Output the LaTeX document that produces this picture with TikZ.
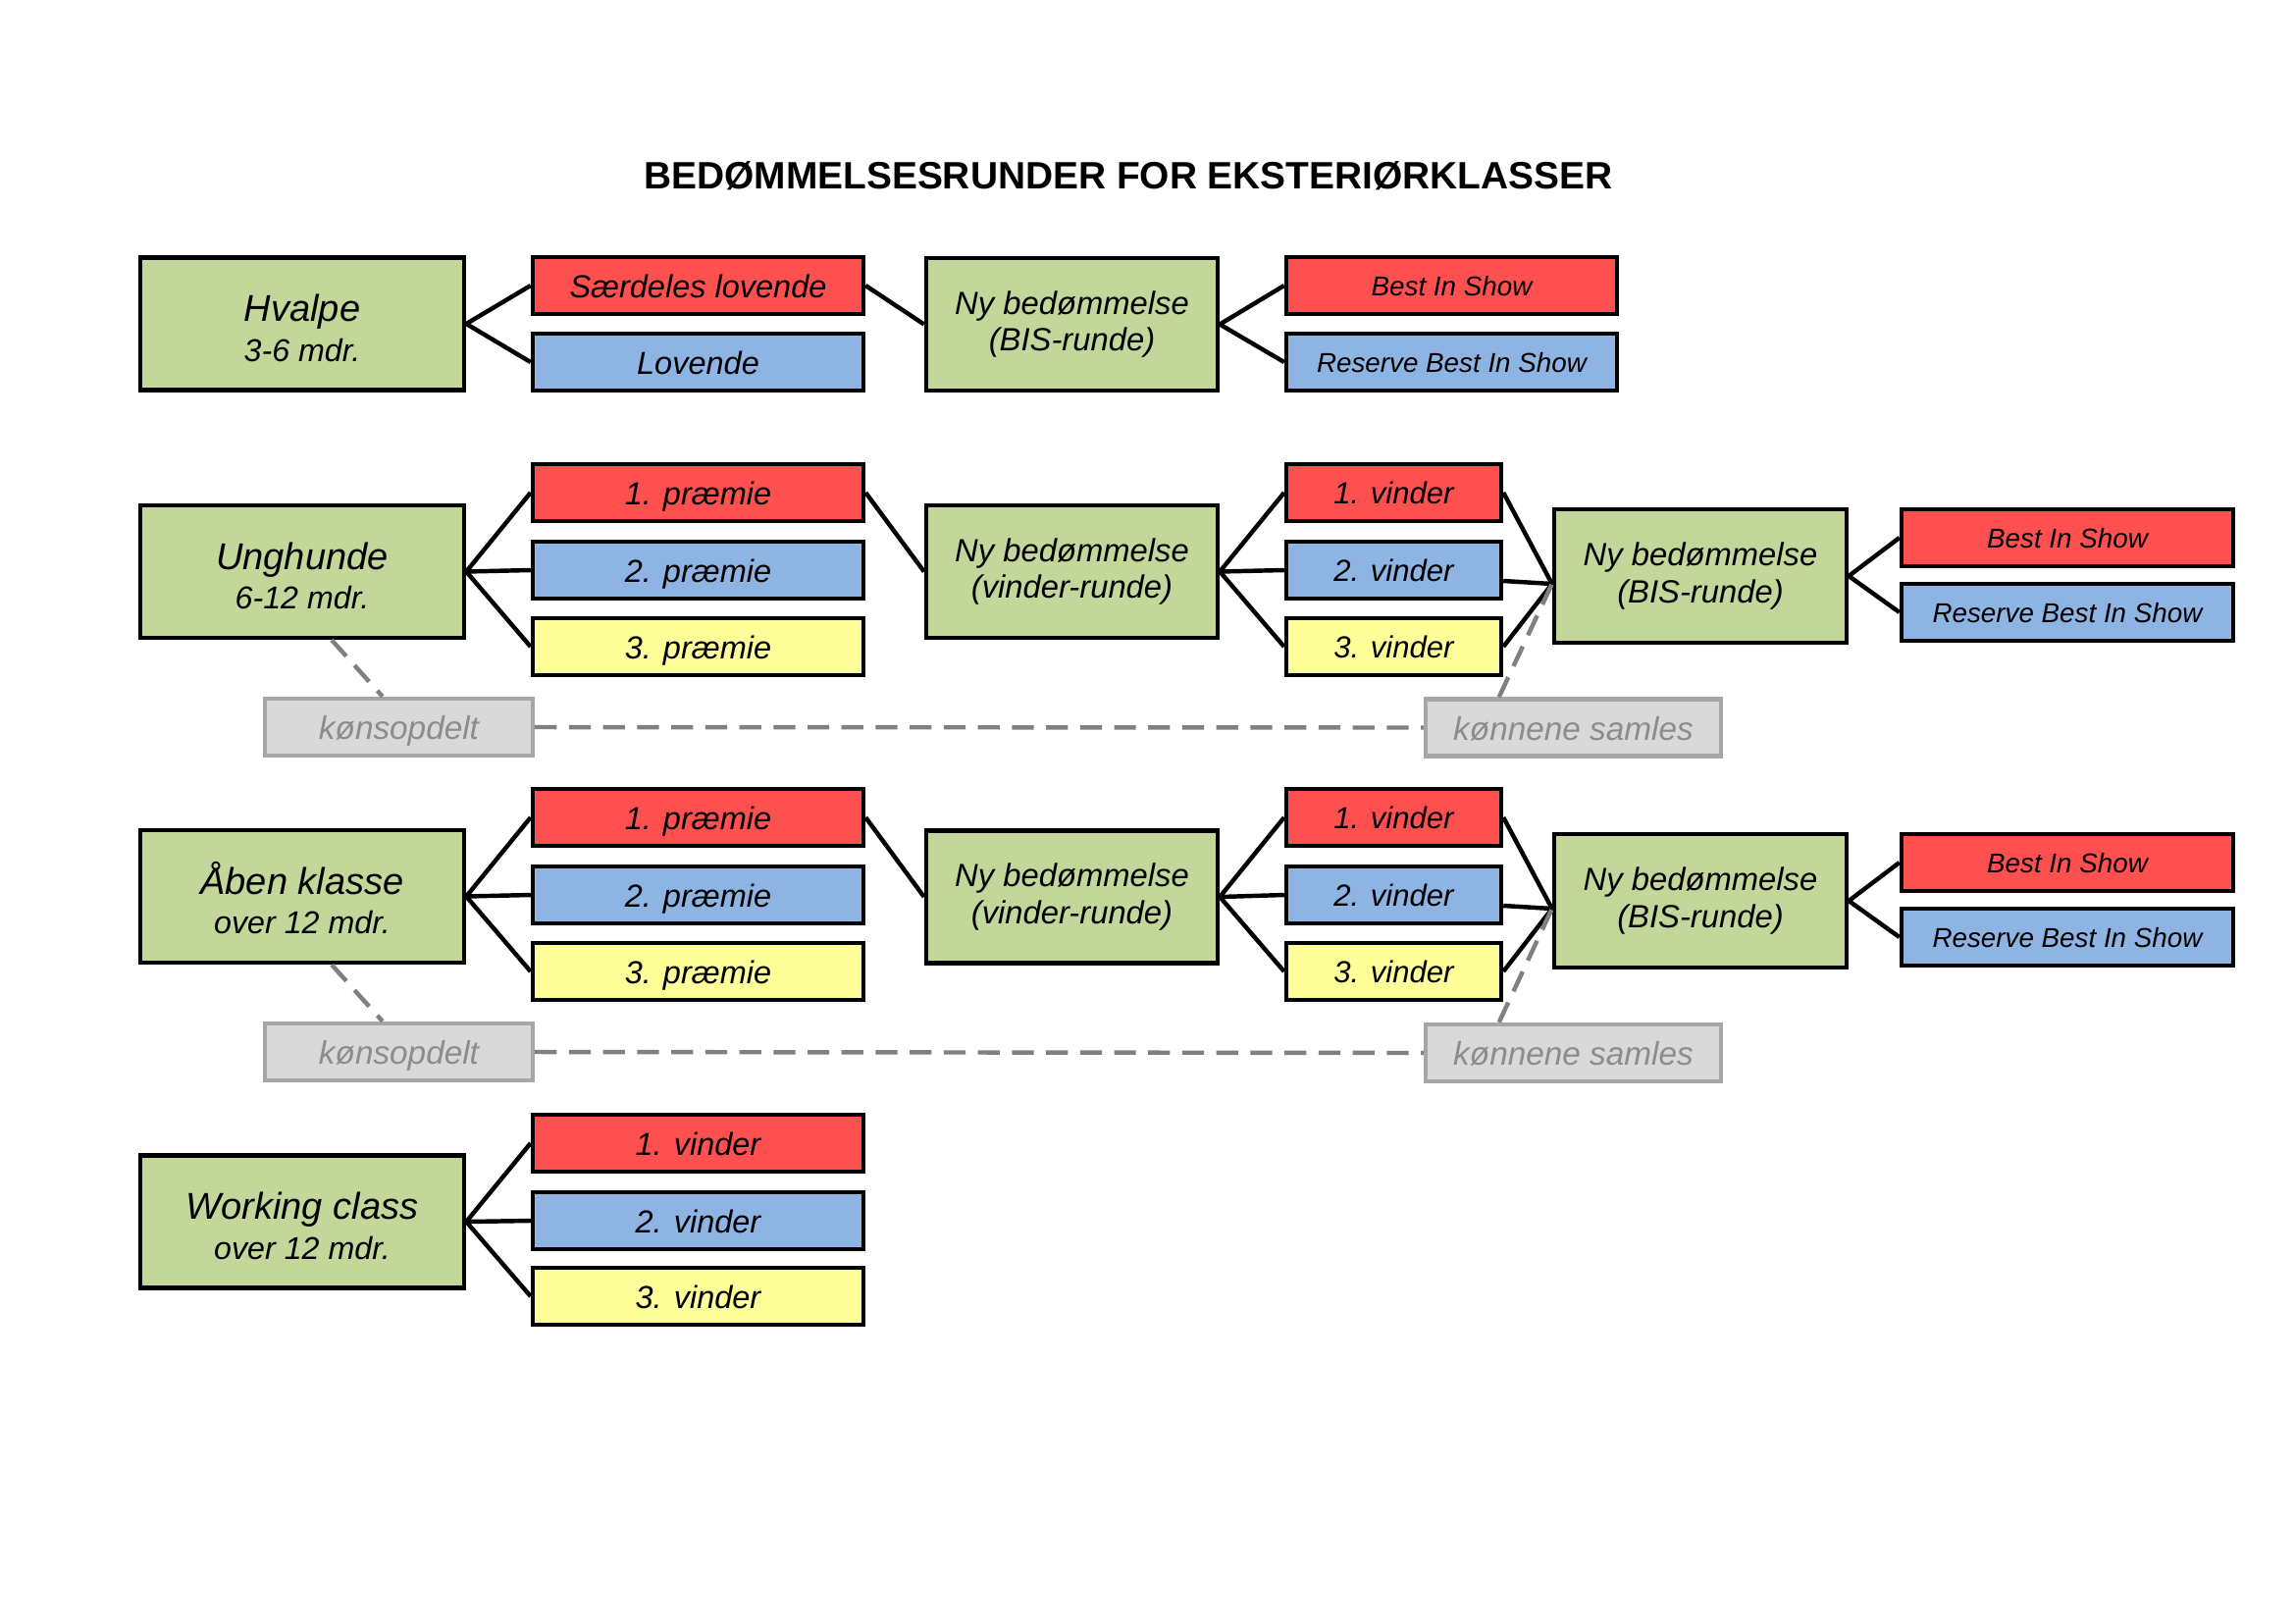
\documentclass[tikz,border=0pt]{standalone}
\usepackage{fontspec}
\setmainfont{Liberation Sans}
\usetikzlibrary{calc}
\newlength\pxu \setlength\pxu{0.36pt}
\newcommand\clsfirst[1]{{\fontsize{13.7}{16}\selectfont\rule{0pt}{13pt}#1}}
\definecolor{cgreen}{RGB}{196,215,155}
\definecolor{cred}{RGB}{255,80,80}
\definecolor{cblue}{RGB}{141,180,226}
\definecolor{cyellow}{RGB}{255,255,153}
\definecolor{cgreyfill}{RGB}{217,217,217}
\definecolor{cgreyline}{RGB}{166,166,166}
\definecolor{cgreytext}{RGB}{140,140,140}
\definecolor{cdash}{RGB}{128,128,128}
\begin{document}
\begin{tikzpicture}[x=0.36pt,y=-0.36pt,
  box/.style={draw=black,line width=1.6pt,inner sep=0pt,align=center},
  classbox/.style={box,fill=cgreen,minimum width=330\pxu,minimum height=135\pxu,font=\fontsize{11.6}{14.5}\selectfont\itshape},
  nybox/.style={box,fill=cgreen,minimum width=297\pxu,minimum height=135\pxu,font=\fontsize{11.8}{13.6}\selectfont\itshape},
  awardbox/.style={box,minimum width=337\pxu,minimum height=58\pxu,text height=9pt,text depth=0pt,font=\fontsize{11.7}{14}\selectfont\itshape},
  bisbox/.style={box,minimum width=337\pxu,minimum height=58\pxu,text height=7.7pt,text depth=0pt,font=\fontsize{10}{12}\selectfont\itshape},
  vinbox/.style={box,minimum width=219\pxu,minimum height=58\pxu,text height=8.6pt,text depth=0pt,font=\fontsize{11.2}{13}\selectfont\itshape},
  greybox/.style={draw=cgreyline,fill=cgreyfill,line width=1.6pt,inner sep=0pt,text=cgreytext,minimum height=58\pxu,text height=9.3pt,text depth=0pt,font=\fontsize{12}{14}\selectfont\itshape},
  conn/.style={draw=black,line width=1.6pt},
  dashline/.style={draw=cdash,line width=1.6pt,dash pattern=on 8pt off 4.5pt}
]
\fill[white] (0,0) rectangle (2339,1654);
\useasboundingbox (0,0) rectangle (2339,1654);

\node[font=\fontsize{14}{16}\selectfont\bfseries] (title) at (1150,179) {BEDØMMELSESRUNDER FOR EKSTERIØRKLASSER};

% Row 1
\node[classbox] (hv) at (308,330) {\clsfirst{Hvalpe}\\[0pt]3-6 mdr.};
\node[awardbox,fill=cred] (sl) at (711.5,291) {Særdeles lovende};
\node[awardbox,fill=cblue] (lo) at (711.5,369) {Lovende};
\node[nybox] (ny1) at (1092.5,330.5) {Ny bedømmelse\\(BIS-runde)};
\node[bisbox,fill=cred] (bs1) at (1479.5,291) {Best In Show};
\node[bisbox,fill=cblue] (rb1) at (1479.5,369) {Reserve Best In Show};

% Row 2
\node[classbox] (ung) at (308,582.5) {\clsfirst{Unghunde}\\[0pt]6-12 mdr.};
\node[awardbox,fill=cred] (p21) at (711.5,502) {1. præmie};
\node[awardbox,fill=cblue] (p22) at (711.5,581) {2. præmie};
\node[awardbox,fill=cyellow] (p23) at (711.5,659) {3. præmie};
\node[nybox] (ny2) at (1092.5,582.5) {Ny bedømmelse\\(vinder-runde)};
\node[vinbox,fill=cred] (v21) at (1420.5,502) {1. vinder};
\node[vinbox,fill=cblue] (v22) at (1420.5,581) {2. vinder};
\node[vinbox,fill=cyellow] (v23) at (1420.5,659) {3. vinder};
\node[nybox,minimum width=298\pxu,minimum height=136\pxu] (bis2) at (1733,587) {Ny bedømmelse\\(BIS-runde)};
\node[bisbox,fill=cred,minimum width=338\pxu] (bs2) at (2107,548) {Best In Show};
\node[bisbox,fill=cblue,minimum width=338\pxu] (rb2) at (2107,624) {Reserve Best In Show};
\node[greybox,minimum width=273\pxu] (ks1) at (406.5,741) {kønsopdelt};
\node[greybox,minimum width=301\pxu] (kn1) at (1603.5,741.5) {kønnene samles};

% Row 3
\node[classbox] (aab) at (308,913.5) {\clsfirst{Åben klasse}\\[0pt]over 12 mdr.};
\node[awardbox,fill=cred] (p31) at (711.5,833) {1. præmie};
\node[awardbox,fill=cblue] (p32) at (711.5,912) {2. præmie};
\node[awardbox,fill=cyellow] (p33) at (711.5,990) {3. præmie};
\node[nybox] (ny3) at (1092.5,914) {Ny bedømmelse\\(vinder-runde)};
\node[vinbox,fill=cred] (v31) at (1420.5,833) {1. vinder};
\node[vinbox,fill=cblue] (v32) at (1420.5,912) {2. vinder};
\node[vinbox,fill=cyellow] (v33) at (1420.5,990) {3. vinder};
\node[nybox,minimum width=298\pxu,minimum height=136\pxu] (bis3) at (1733,918) {Ny bedømmelse\\(BIS-runde)};
\node[bisbox,fill=cred,minimum width=338\pxu] (bs3) at (2107,879) {Best In Show};
\node[bisbox,fill=cblue,minimum width=338\pxu] (rb3) at (2107,955) {Reserve Best In Show};
\node[greybox,minimum width=273\pxu] (ks2) at (406.5,1072) {kønsopdelt};
\node[greybox,minimum width=301\pxu] (kn2) at (1603.5,1073) {kønnene samles};

% Row 4
\node[classbox] (wc) at (308,1245) {\clsfirst{Working class}\\[0pt]over 12 mdr.};
\node[awardbox,fill=cred] (w1) at (711.5,1165) {1. vinder};
\node[awardbox,fill=cblue] (w2) at (711.5,1244) {2. vinder};
\node[awardbox,fill=cyellow] (w3) at (711.5,1321) {3. vinder};

% Connectors row 1
\draw[conn] (hv.east) -- (sl.west);
\draw[conn] (hv.east) -- (lo.west);
\draw[conn] (sl.east) -- (ny1.west);
\draw[conn] (ny1.east) -- (bs1.west);
\draw[conn] (ny1.east) -- (rb1.west);

% Connectors row 2
\coordinate (bin2) at ($(bis2.west)+(0,8)$);
\draw[conn] (ung.east) -- (p21.west);
\draw[conn] (ung.east) -- (p22.west);
\draw[conn] (ung.east) -- (p23.west);
\draw[conn] (p21.east) -- (ny2.west);
\draw[conn] (ny2.east) -- (v21.west);
\draw[conn] (ny2.east) -- (v22.west);
\draw[conn] (ny2.east) -- (v23.west);
\draw[conn] (v21.east) -- (bin2);
\draw[conn] ($(v22.east)+(0,11)$) -- (bin2);
\draw[conn] (v23.east) -- (bin2);
\draw[conn] (bis2.east) -- (bs2.west);
\draw[conn] (bis2.east) -- (rb2.west);
\draw[dashline] ($(ung.south west)!0.59!(ung.south east)$) -- ($(ks1.north west)!0.44!(ks1.north east)$);
\draw[dashline] (ks1.east) -- (kn1.west);
\draw[dashline] ($(kn1.north west)+(77,0)$) -- (bin2);

% Connectors row 3
\coordinate (bin3) at ($(bis3.west)+(0,8)$);
\draw[conn] (aab.east) -- (p31.west);
\draw[conn] (aab.east) -- (p32.west);
\draw[conn] (aab.east) -- (p33.west);
\draw[conn] (p31.east) -- (ny3.west);
\draw[conn] (ny3.east) -- (v31.west);
\draw[conn] (ny3.east) -- (v32.west);
\draw[conn] (ny3.east) -- (v33.west);
\draw[conn] (v31.east) -- (bin3);
\draw[conn] ($(v32.east)+(0,11)$) -- (bin3);
\draw[conn] (v33.east) -- (bin3);
\draw[conn] (bis3.east) -- (bs3.west);
\draw[conn] (bis3.east) -- (rb3.west);
\draw[dashline] ($(aab.south west)!0.59!(aab.south east)$) -- ($(ks2.north west)!0.44!(ks2.north east)$);
\draw[dashline] (ks2.east) -- (kn2.west);
\draw[dashline] ($(kn2.north west)+(77,0)$) -- (bin3);

% Connectors row 4
\draw[conn] (wc.east) -- (w1.west);
\draw[conn] (wc.east) -- (w2.west);
\draw[conn] (wc.east) -- (w3.west);
\end{tikzpicture}
\end{document}
